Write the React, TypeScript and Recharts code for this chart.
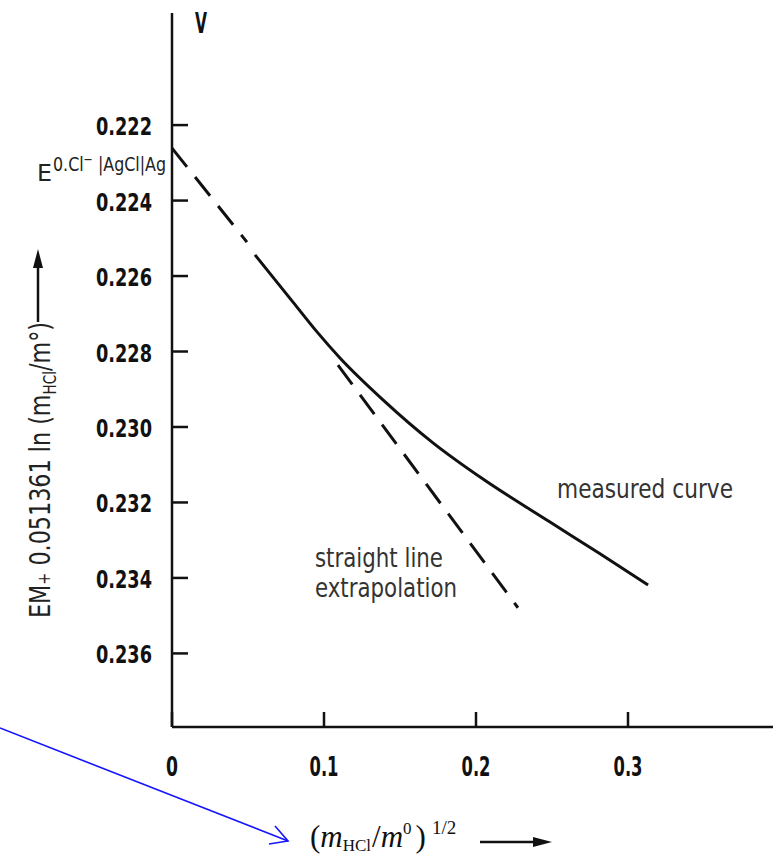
import { Line, LineChart, XAxis, YAxis } from 'recharts'

const NARROW = "'Liberation Sans Narrow', 'DejaVu Sans Condensed', Arial, sans-serif"
const SERIF = "'Liberation Serif', 'DejaVu Serif', serif"

// x = (m_HCl/m0)^1/2, y = E_M + 0.051361 ln(m_HCl/m0) in V
const measuredX = [0.0546, 0.0796, 0.0954, 0.1105, 0.1388, 0.1717, 0.2046, 0.2487, 0.2816, 0.3132]
const measuredY = [0.22544, 0.22669, 0.22748, 0.22817, 0.22928, 0.23042, 0.23138, 0.23252, 0.23336, 0.23419]

// straight line extrapolation, hidden under the measured curve in the middle
const extrapX = [0, 0.0493, 0.08, 0.1092, 0.2276]
const extrapY = [0.22261, 0.2251, null, 0.22836, 0.23479]

const xTicks = [0, 0.1, 0.2, 0.3]
const yTicks = [0.222, 0.224, 0.226, 0.228, 0.23, 0.232, 0.234, 0.236]
const xTickLabels = ['0', '0.1', '0.2', '0.3']

const measured = measuredX.map((x, i) => ({ x, y: measuredY[i] }))
const extrap = extrapX.map((x, i) => ({ x, y: extrapY[i] }))

function YTick(props: any) {
  const { x, y, payload } = props
  return (
    <g>
      <line x1={x} x2={x + 16} y1={y} y2={y} stroke="#111" strokeWidth={2.5} />
      <text
        x={x - 20}
        y={y + 10}
        textAnchor="end"
        fontFamily={NARROW}
        fontWeight="bold"
        fontSize={25}
        fill="#111"
        textLength={56}
        lengthAdjust="spacingAndGlyphs"
      >
        {payload.value.toFixed(3)}
      </text>
    </g>
  )
}

function XTick(props: any) {
  const { x, y, payload, index } = props
  const label = xTickLabels[index] ?? String(payload.value)
  return (
    <g>
      <line x1={x} x2={x} y1={y} y2={y - 15} stroke="#111" strokeWidth={2.5} />
      <text
        x={x}
        y={y + 49}
        textAnchor="middle"
        fontFamily={NARROW}
        fontWeight="bold"
        fontSize={27}
        fill="#111"
        textLength={label.length === 1 ? 12 : 29}
        lengthAdjust="spacingAndGlyphs"
      >
        {label}
      </text>
    </g>
  )
}

function Overlay() {
  return (
    <svg width={781} height={857} style={{ position: 'absolute', left: 0, top: 0, pointerEvents: 'none' }}>
      <text x={195} y={33} fontFamily={NARROW} fontWeight="bold" fontSize={28} fill="#111" textLength={12} lengthAdjust="spacingAndGlyphs">
        V
      </text>

      <text x={37} y={181} fontFamily={NARROW} fontSize={23} fill="#222" textLength={15} lengthAdjust="spacingAndGlyphs">E</text>
      <text x={53} y={171} fontFamily={NARROW} fontSize={20} fill="#222" textLength={113} lengthAdjust="spacingAndGlyphs">
        0.Cl<tspan fontSize={14} dy={-7}>−</tspan>
        <tspan dy={7}> |AgCl|Ag</tspan>
      </text>

      <g transform="rotate(-90 50 618)">
        <text x={50} y={618} fontFamily={NARROW} fontSize={28} fill="#222" textLength={296} lengthAdjust="spacingAndGlyphs">
          EM<tspan fontSize={18}>+</tspan> 0.051361 ln (m<tspan fontSize={17} dy={6}>HCl</tspan>
          <tspan dy={-6}>/m°)</tspan>
        </text>
      </g>
      <line x1={38} x2={38} y1={322} y2={264} stroke="#111" strokeWidth={2.5} />
      <polygon points="38,249 33,268 43,268" fill="#111" />

      <text x={557} y={498} fontFamily={NARROW} fontSize={27} fill="#333" textLength={176} lengthAdjust="spacingAndGlyphs">
        measured curve
      </text>
      <text x={315} y={567} fontFamily={NARROW} fontSize={27} fill="#333" textLength={128} lengthAdjust="spacingAndGlyphs">
        straight line
      </text>
      <text x={315} y={597} fontFamily={NARROW} fontSize={27} fill="#333" textLength={142} lengthAdjust="spacingAndGlyphs">
        extrapolation
      </text>

      <line x1={0} y1={728} x2={288} y2={841} stroke="#1414ff" strokeWidth={1.6} />
      <polyline points="275,826 288,841 269,844" fill="none" stroke="#1414ff" strokeWidth={1.6} />

      <text x={310} y={847} fontFamily={SERIF} fontSize={31} fill="#111">
        (<tspan fontStyle="italic">m</tspan>
        <tspan fontSize={17} dy={4}>HCl</tspan>
        <tspan dy={-4} dx={1}>/</tspan>
        <tspan fontStyle="italic">m</tspan>
        <tspan fontSize={17} dy={-13}>0</tspan>
        <tspan dy={13} dx={4}>)</tspan>
        <tspan fontSize={19} dy={-13} dx={6}>1/2</tspan>
      </text>
      <line x1={480} x2={536} y1={842} y2={842} stroke="#111" strokeWidth={2.5} />
      <polygon points="552,842 533,837 533,847" fill="#111" />
    </svg>
  )
}

export default function App() {
  return (
    <div style={{ position: 'absolute', left: 0, top: 0, width: 781, height: 857, background: '#fff' }}>
      <LineChart width={781} height={857} margin={{ top: 13, right: 8, bottom: 70, left: 112 }}>
        <XAxis
          type="number"
          dataKey="x"
          domain={[0, 0.3954]}
          ticks={xTicks}
          height={60}
          tickSize={0}
          tickMargin={0}
          tickLine={false}
          axisLine={{ stroke: '#111', strokeWidth: 2.5 }}
          tick={<XTick />}
          allowDataOverflow
        />
        <YAxis
          type="number"
          dataKey="y"
          domain={[0.21903, 0.23795]}
          reversed
          ticks={yTicks}
          width={60}
          tickSize={0}
          tickMargin={0}
          tickLine={false}
          axisLine={{ stroke: '#111', strokeWidth: 2.5 }}
          tick={<YTick />}
          allowDataOverflow
        />
        <Line
          data={extrap}
          dataKey="y"
          type="linear"
          stroke="#111"
          strokeWidth={3}
          strokeDasharray="24 13"
          dot={false}
          connectNulls={false}
          isAnimationActive={false}
        />
        <Line
          data={measured}
          dataKey="y"
          type="monotone"
          stroke="#111"
          strokeWidth={3}
          dot={false}
          isAnimationActive={false}
        />
      </LineChart>
      <Overlay />
    </div>
  )
}
